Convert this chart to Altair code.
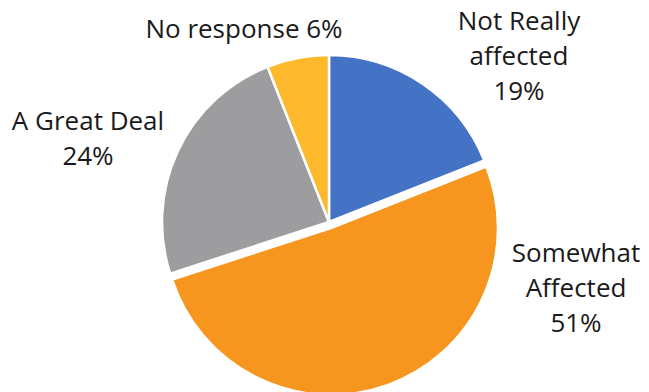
import altair as alt
import pandas as pd

categories = ["Not Really affected", "Somewhat Affected", "A Great Deal", "No response"]
values = [19, 51, 24, 6]
colors = ["#4472C4", "#F7961E", "#9D9D9F", "#FDB92B"]
label_text = ["Not Really\naffected\n19%", "Somewhat\nAffected\n51%", "A Great Deal\n24%", "No response 6%"]

df = pd.DataFrame({"category": categories, "value": values, "order": list(range(len(values)))})

EXPLODED = "Somewhat Affected"
R = 167


def pie(show_exploded, cx, cy):
    test = f"datum.category === '{EXPLODED}'"
    cond = alt.condition(test, alt.value(1), alt.value(0)) if show_exploded else alt.condition(test, alt.value(0), alt.value(1))
    return alt.Chart(df).mark_arc(radius=R, stroke="white", strokeWidth=2.5).encode(
        theta=alt.Theta("value:Q", stack=True),
        order=alt.Order("order:Q"),
        color=alt.Color("category:N", scale=alt.Scale(domain=categories, range=colors), legend=None),
        opacity=cond,
        x=alt.value(cx),
        y=alt.value(cy),
    )


label_pos = [(511, 22), (568, 254), (80, 122), (236, 30)]

layers = [pie(False, 321, 214), pie(True, 323, 220)]
for txt, (px, py) in zip(label_text, label_pos):
    layers.append(
        alt.Chart(pd.DataFrame({"t": [txt]})).mark_text(
            align="center", baseline="alphabetic", lineBreak="\n", lineHeight=35,
            fontSize=26, font="Open Sans", color="#1a1a1a"
        ).encode(text="t:N", x=alt.value(px), y=alt.value(py))
    )

chart = alt.layer(*layers).properties(
    width=633, height=384, padding=0,
    autosize=alt.AutoSizeParams(type="none"),
).configure_view(stroke=None)

chart.save("out.html", embed_options={"renderer": "svg", "actions": False})
